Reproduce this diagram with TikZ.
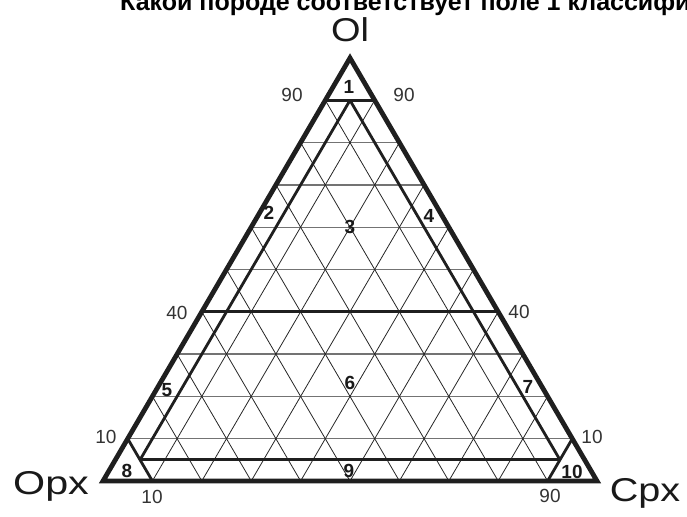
\documentclass[tikz,border=0pt]{standalone}
\usepackage{fontspec}
\setmainfont{Liberation Sans}
\begin{document}
\begin{tikzpicture}[x=1pt,y=-1pt,
  outer/.style={line width=4.8pt, line join=miter, color=black!88},
  bound/.style={line width=2.8pt, color=black!88},
  gridh/.style={line width=1.3pt, color=black!55},
  gridd/.style={line width=0.8pt, color=black!85},
  num/.style={font=\fontsize{19}{19}\selectfont, text=black!80, inner sep=0},
  field/.style={font=\bfseries\fontsize{19}{19}\selectfont, text=black!90, inner sep=0},
  corner/.style={font=\fontsize{33}{33}\selectfont, inner sep=0, text=black!90}]
\useasboundingbox (0,0) rectangle (687,516);
\coordinate (Ol) at (350,58);
\coordinate (Opx) at (103,481);
\coordinate (Cpx) at (597,481);
% lattice
\foreach \k in {1,...,8}{
  \pgfmathsetmacro\a{\k/10}\pgfmathsetmacro\r{1-\a}
  \draw[gridh] (barycentric cs:Ol=\a,Opx=\r,Cpx=0) -- (barycentric cs:Ol=\a,Opx=0,Cpx=\r);}
\foreach \k in {1,...,9}{
  \pgfmathsetmacro\c{\k/10}\pgfmathsetmacro\r{1-\c}
  \draw[gridd] (barycentric cs:Ol=\r,Opx=0,Cpx=\c) -- (barycentric cs:Ol=0,Opx=\r,Cpx=\c);
  \draw[gridd] (barycentric cs:Ol=\r,Opx=\c,Cpx=0) -- (barycentric cs:Ol=0,Opx=\c,Cpx=\r);}
% field boundaries
\coordinate (p90l) at (barycentric cs:Ol=0.9,Opx=0.1,Cpx=0);
\coordinate (p90r) at (barycentric cs:Ol=0.9,Opx=0,Cpx=0.1);
\coordinate (p90m) at (barycentric cs:Ol=0.9,Opx=0.05,Cpx=0.05);
\coordinate (p40l) at (barycentric cs:Ol=0.4,Opx=0.6,Cpx=0);
\coordinate (p40r) at (barycentric cs:Ol=0.4,Opx=0,Cpx=0.6);
\coordinate (p5l) at (barycentric cs:Ol=0.05,Opx=0.9,Cpx=0.05);
\coordinate (p5r) at (barycentric cs:Ol=0.05,Opx=0.05,Cpx=0.9);
\coordinate (p10l) at (barycentric cs:Ol=0.1,Opx=0.9,Cpx=0);
\coordinate (p10r) at (barycentric cs:Ol=0.1,Opx=0,Cpx=0.9);
\coordinate (b10) at (barycentric cs:Ol=0,Opx=0.9,Cpx=0.1);
\coordinate (b90) at (barycentric cs:Ol=0,Opx=0.1,Cpx=0.9);
\draw[bound] (p90l) -- (p90r);
\draw[bound] (p40l) -- (p40r);
\draw[bound] (p5l) -- (p5r);
\draw[bound] (p90m) -- (p5l);
\draw[bound] (p90m) -- (p5r);
\draw[bound] (p10l) -- (b10);
\draw[bound] (p10r) -- (b90);
\draw[outer] (Ol) -- (Opx) -- (Cpx) -- cycle;
% corner labels
\node[corner] (lOl) at (350,30) {\scalebox{1.15}[1]{Ol}};
\node[corner] (lOpx) at (51,486) {\scalebox{1.25}[1]{Opx}};
\node[corner] (lCpx) at (645,493) {\scalebox{1.2}[1]{Cpx}};
% scale numbers
\node[num] (n90l) at (292,95) {90};
\node[num] (n90r) at (404,95) {90};
\node[num] (n40l) at (177,313) {40};
\node[num] (n40r) at (519,312) {40};
\node[num] (n10l) at (106,437) {10};
\node[num] (n10r) at (592,437) {10};
\node[num] (n10b) at (152,497) {10};
\node[num] (n90b) at (550,496) {90};
% field numbers
\node[field] (f1) at (349,87) {1};
\node[field] (f2) at (269,213) {2};
\node[field] (f3) at (350,227) {3};
\node[field] (f4) at (429,216) {4};
\node[field] (f5) at (167,390) {5};
\node[field] (f6) at (350,383) {6};
\node[field] (f7) at (528,387) {7};
\node[field] (f8) at (127,471) {8};
\node[field] (f9) at (349,471) {9};
\node[field] (f10) at (572,472) {10};
% title (cut off at the top)
\node[anchor=base west, inner sep=0, font=\bfseries\fontsize{25}{25}\selectfont] (title) at (120,11) {Какой породе соответствует поле 1 классификации?};
\end{tikzpicture}
\end{document}
